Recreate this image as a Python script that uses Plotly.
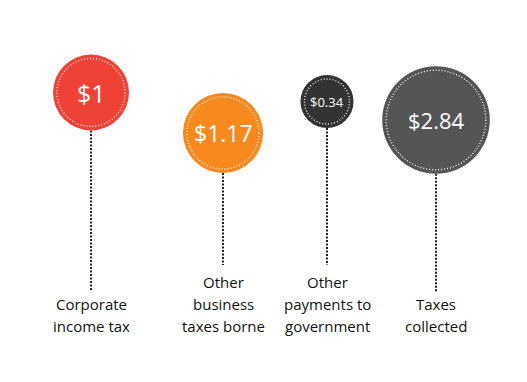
import plotly.graph_objects as go

# ---- data ----
categories = ["Corporate<br>income tax", "Other<br>business<br>taxes borne",
              "Other<br>payments to<br>government", "Taxes<br>collected"]
values = [1.00, 1.17, 0.34, 2.84]
value_labels = ["$1", "$1.17", "$0.34", "$2.84"]

# ---- layout / style constants ----
W, H = 527, 382
OFF = 8  # default page body margin
x_pos = [91, 223, 327, 436]
y_pos = [92.5, 133, 101.5, 120]
colors = ["#EF4136", "#F7891F", "#333333", "#555555"]
label_font_sizes = [25, 23, 13, 22]
BASE_D = 76  # diameter of the $1 bubble (cube-root scaling)
line_end = [291, 265, 265, 292]
LAST_LINE_Y = 326
LINE_GAP = 22

diam = [BASE_D * v ** (1 / 3) for v in values]

fig = go.Figure()

# connector dotted lines
for x, y, d, ye in zip(x_pos, y_pos, diam, line_end):
    fig.add_trace(go.Scatter(x=[x, x], y=[y + d / 2, ye], mode="lines",
                             line=dict(color="#222222", width=2, dash="2px,1.5px"),
                             hoverinfo="skip", showlegend=False))

# bubbles
fig.add_trace(go.Scatter(x=x_pos, y=y_pos, mode="markers",
                         marker=dict(size=diam, color=colors, opacity=1,
                                     line=dict(width=0)),
                         hoverinfo="skip", showlegend=False))

shapes = []
for x, y, d in zip(x_pos, y_pos, diam):
    r = d / 2 - 4
    shapes.append(dict(type="circle", xref="x", yref="y",
                       x0=x - r, x1=x + r, y0=y - r, y1=y + r,
                       line=dict(color="white", width=1.3, dash="1px,2px"),
                       layer="above"))

annotations = []
for x, y, t, fs in zip(x_pos, y_pos, value_labels, label_font_sizes):
    annotations.append(dict(x=x, y=y, text=t, showarrow=False,
                            font=dict(family="Open Sans", size=fs, color="white"),
                            xanchor="center", yanchor="middle"))
for x, c in zip(x_pos, categories):
    lines = c.split("<br>")
    n = len(lines)
    for i, ln in enumerate(lines):
        annotations.append(dict(x=x, y=LAST_LINE_Y - LINE_GAP * (n - 1 - i), text=ln,
                                showarrow=False,
                                font=dict(family="Open Sans", size=15, color="#111111"),
                                xanchor="center", yanchor="middle"))

fig.update_layout(
    width=W - OFF, height=H - OFF, margin=dict(l=0, r=0, t=0, b=0),
    paper_bgcolor="white", plot_bgcolor="white",
    xaxis=dict(range=[OFF, W], visible=False, fixedrange=True),
    yaxis=dict(range=[H, OFF], visible=False, fixedrange=True),
    shapes=shapes, annotations=annotations,
)

fig.write_html("out.html")
